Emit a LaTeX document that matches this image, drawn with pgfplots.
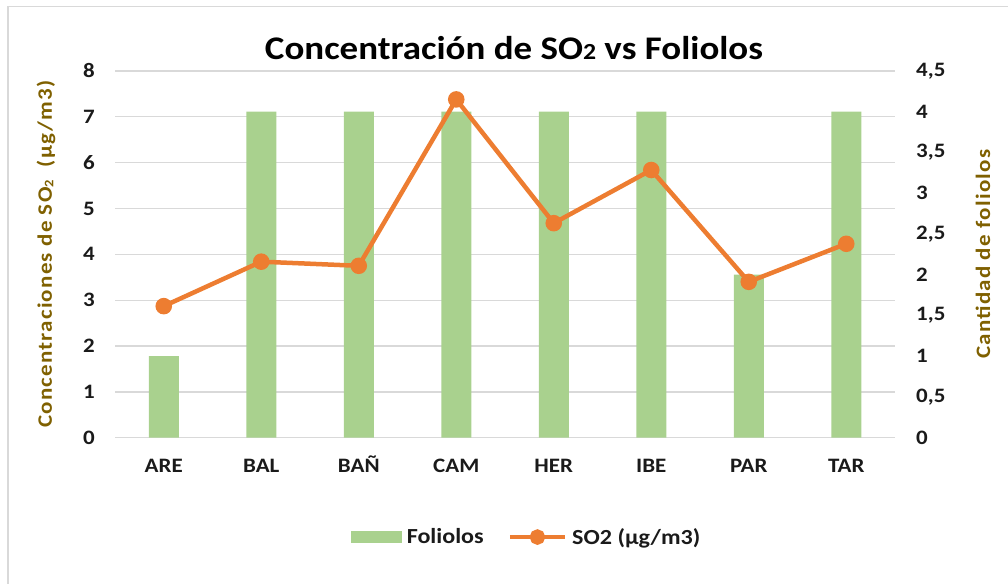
\documentclass[border=0pt]{standalone}
\usepackage{fontspec}
\setmainfont{Carlito}[FakeStretch=1.12]
\newfontfamily\spacedfont{Carlito}[LetterSpace=6, FakeStretch=1.12]
\usepackage{pgfplots}
\pgfplotsset{compat=1.18}
\definecolor{bargreen}{HTML}{A9D18E}
\definecolor{lineorange}{HTML}{ED7D31}
\definecolor{gridgray}{HTML}{D9D9D9}
\definecolor{labelolive}{HTML}{7F6000}
\definecolor{tickdark}{HTML}{1A1A1A}
\begin{document}
\begin{tikzpicture}[x=1bp,y=1bp]
\useasboundingbox (0,0) rectangle (1008,584);
\draw[gridgray, line width=1.5bp] (8,-5) -- (8,577.5) -- (1015,577.5);
\begin{axis}[
  at={(115bp,146.3bp)}, anchor=south west,
  scale only axis, width=780bp, height=366.7bp,
  xmin=-0.5, xmax=7.5, ymin=0, ymax=4.5,
  axis y line*=right, axis x line*=bottom,
  axis line style={draw=none},
  xtick={0,1,2,3,4,5,6,7},
  xticklabels={ARE,BAL,BAÑ,CAM,HER,IBE,PAR,TAR},
  ytick={0,0.5,1,1.5,2,2.5,3,3.5,4,4.5},
  extra y ticks={0,0.5625,1.125,1.6875,2.25,2.8125,3.375,3.9375,4.5},
  extra y tick labels={},
  extra y tick style={grid=major, major grid style={gridgray, line width=1.3bp}},
  major tick length=0,
  /pgf/number format/assume math mode=true,
  /pgf/number format/use comma,
  tick label style={font=\fontsize{20.5bp}{24bp}\selectfont\bfseries, text=tickdark, inner sep=0bp},
  xticklabel style={anchor=north, text height=13.5bp, text depth=0bp},
  yticklabel shift=21bp,
  xticklabel shift=21bp,
  ylabel={\spacedfont\bfseries Cantidad de foliolos},
  every axis y label/.style={at={(axis description cs:1.1128,0.5)}, rotate=90, anchor=center,
     font=\fontsize{20.5bp}{24bp}\selectfont, text=labelolive},
]
\addplot[ybar, bar width=30bp, fill=bargreen, draw=none] coordinates {
  (0,1) (1,4) (2,4) (3,4) (4,4) (5,4) (6,2) (7,4)
};
\end{axis}
\begin{axis}[
  at={(115bp,146.3bp)}, anchor=south west,
  scale only axis, width=780bp, height=366.7bp,
  xmin=-0.5, xmax=7.5, ymin=0, ymax=8,
  axis y line*=left, axis x line=none,
  axis line style={draw=none},
  ytick={0,1,2,3,4,5,6,7,8},
  major tick length=0,
  /pgf/number format/assume math mode=true,
  tick label style={font=\fontsize{20.5bp}{24bp}\selectfont\bfseries, text=tickdark, inner sep=0bp},
  yticklabel shift=20bp,
  ylabel={\spacedfont\bfseries Concentraciones de SO\raisebox{-1.5bp}{\fontsize{13bp}{13bp}\selectfont 2} \ (µg/m3)},
  every axis y label/.style={at={(axis description cs:-0.0885,0.5)}, rotate=90, anchor=center,
     font=\fontsize{20.5bp}{24bp}\selectfont, text=labelolive},
  legend columns=2,
  legend style={at={(axis description cs:0.528,-0.271)}, anchor=center, draw=none, fill=none,
     font=\fontsize{21.5bp}{25bp}\selectfont\bfseries, text=tickdark,
     /tikz/every odd column/.append style={column sep=3bp},
     /tikz/every even column/.append style={column sep=22bp}},
]
\addlegendimage{legend image code/.code={\fill[bargreen] (0bp,-5.5bp) rectangle (50bp,5.5bp);}}
\addlegendentry{Foliolos}
\addplot[lineorange, line width=4.5bp, mark=*, mark size=6bp,
  mark options={fill=lineorange, draw=none},
  legend image code/.code={\draw[lineorange, line width=4.5bp] (0bp,0bp) -- (55bp,0bp); \fill[lineorange] (27.5bp,0bp) circle (5.5bp);}]
  coordinates {
  (0,2.87) (1,3.84) (2,3.75) (3,7.38) (4,4.68) (5,5.84) (6,3.40) (7,4.23)
};
\addlegendentry{SO2 (µg/m3)}
\end{axis}
\node[font=\fontsize{33bp}{38bp}\selectfont\bfseries, anchor=base, text=black] at (514,524)
  {Concentración de SO{\fontsize{23bp}{23bp}\selectfont 2} vs Foliolos};
\end{tikzpicture}
\end{document}
